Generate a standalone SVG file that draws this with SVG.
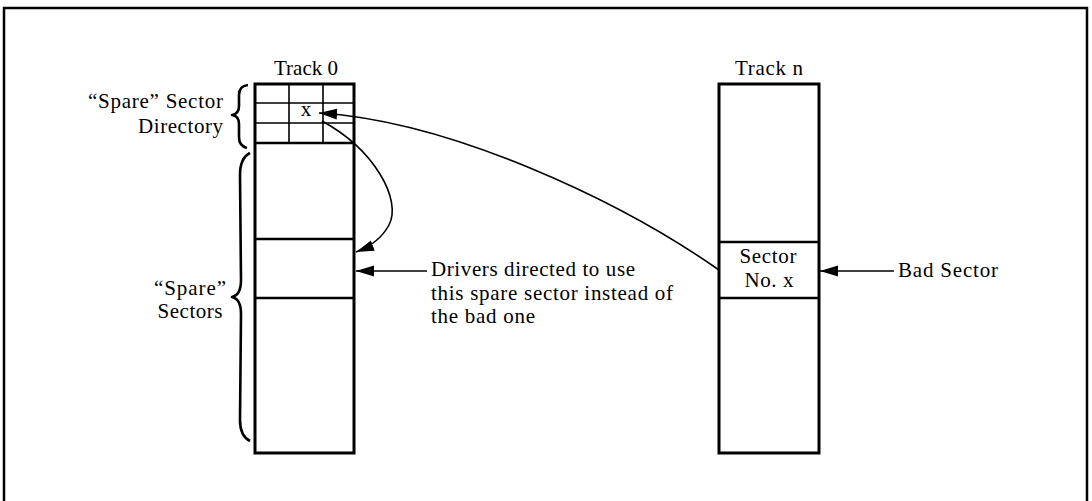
<svg xmlns="http://www.w3.org/2000/svg" width="1092" height="501" viewBox="0 0 1092 501">
<style>
text{font-family:"Liberation Serif","Times New Roman",serif;font-size:21px;fill:#000}
.box{fill:#fff;stroke:#000;stroke-width:3}
.div{stroke:#000;stroke-width:2.5;fill:none}
.grid{stroke:#000;stroke-width:1.6;fill:none}
.conn{stroke:#000;stroke-width:1.6;fill:none}
.brace{stroke:#000;stroke-width:2.6;fill:none;stroke-linejoin:round}
</style>
<defs>
<marker id="ah" markerUnits="userSpaceOnUse" markerWidth="20" markerHeight="12" refX="18" refY="5.5" orient="auto">
<path d="M0,0 L18,5.5 L0,11 Z" fill="#000"/>
</marker>
</defs>
<rect width="1092" height="501" fill="#fff"/>
<path d="M4,520 L4,8 L1087,8 L1087,520" fill="none" stroke="#000" stroke-width="2.5"/>

<g id="track0">
<text x="306" y="75" text-anchor="middle" textLength="64" lengthAdjust="spacing">Track 0</text>
<rect class="box" x="255" y="84" width="99" height="369"/>
<path class="grid" d="M255,103 H354 M255,123 H354 M289,84 V143 M323,84 V143"/>
<path class="div" d="M255,143 H354" stroke-width="3"/>
<path class="div" d="M255,239 H354 M255,298 H354"/>
<text x="306" y="116" text-anchor="middle">x</text>
</g>

<g id="directory-label">
<text x="223" y="108" text-anchor="end" textLength="135" lengthAdjust="spacing">“Spare” Sector</text>
<text x="223" y="133" text-anchor="end" textLength="85" lengthAdjust="spacing">Directory</text>
<path class="brace" d="M248,85 Q239,86 239,95 L239,106 Q239,114 232,115 Q239,116 239,124 L239,137 Q239,146 247,148"/>
</g>

<g id="spare-label">
<text x="190" y="295" text-anchor="middle" textLength="72" lengthAdjust="spacing">“Spare”</text>
<text x="190" y="318" text-anchor="middle" textLength="65" lengthAdjust="spacing">Sectors</text>
<path class="brace" d="M250,153 Q240,158 240,175 L241,280 Q241,295 232,297 Q241,299 241,314 L240,420 Q240,436 250,441"/>
</g>

<g id="trackn">
<text x="769" y="75" text-anchor="middle" textLength="68" lengthAdjust="spacing">Track n</text>
<rect class="box" x="719" y="84" width="100" height="369"/>
<path class="div" d="M719,242 H819 M719,298 H819"/>
<text x="768" y="263" text-anchor="middle" textLength="57" lengthAdjust="spacing">Sector</text>
<text x="769" y="287" text-anchor="middle" textLength="49" lengthAdjust="spacing">No. x</text>
</g>

<g id="drivers-label">
<text x="431" y="276" textLength="204" lengthAdjust="spacing">Drivers directed to use</text>
<text x="431" y="300" textLength="242" lengthAdjust="spacing">this spare sector instead of</text>
<text x="431" y="323" textLength="104" lengthAdjust="spacing">the bad one</text>
</g>

<g id="bad-label">
<text x="898" y="277" textLength="100" lengthAdjust="spacing">Bad Sector</text>
</g>

<g id="connectors">
<path class="conn" d="M719,270 C619,200 450,121 319,113" marker-end="url(#ah)"/>
<path class="conn" d="M322,121 C375,150 402,200 389,225 C382,238 372,246 356,252" marker-end="url(#ah)"/>
<path class="conn" d="M427,271 L356,271" marker-end="url(#ah)"/>
<path class="conn" d="M894,271 L820,271" marker-end="url(#ah)"/>
</g>
</svg>
